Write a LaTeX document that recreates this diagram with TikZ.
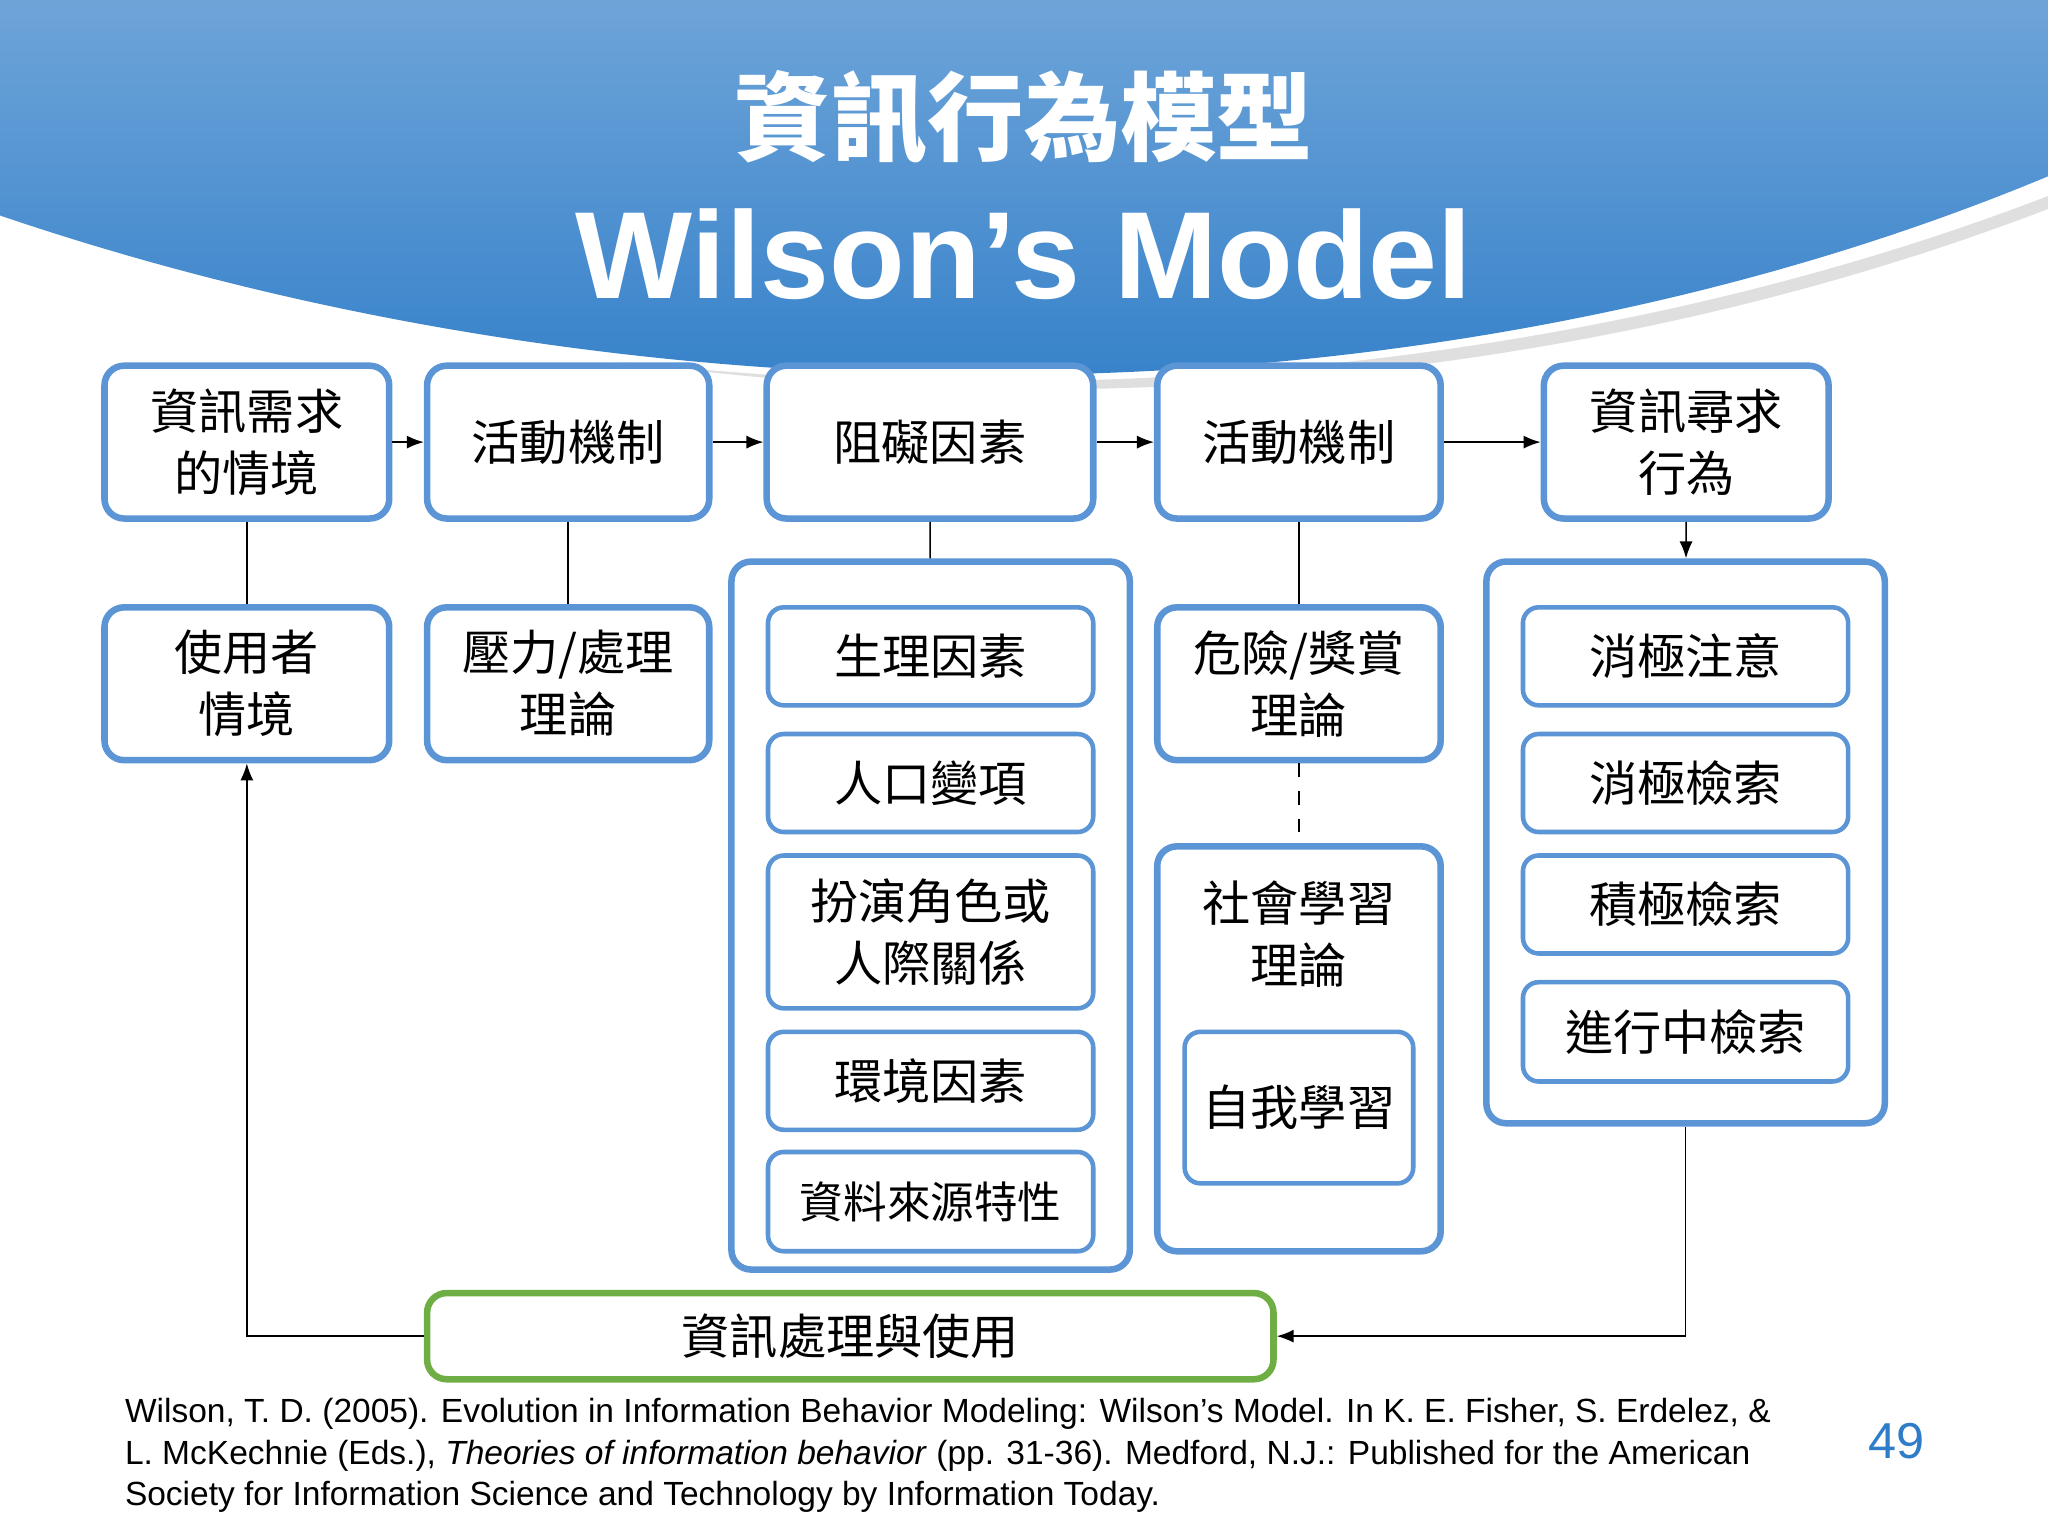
\documentclass[tikz,border=0pt]{standalone}
\usepackage{fontspec}
\setmainfont{Liberation Sans}
\newfontfamily\cjk{Noto Sans CJK TC}
\usetikzlibrary{fit,arrows.meta}
\definecolor{bb}{HTML}{5B95D5}
\definecolor{hb}{HTML}{2F7DC8}
\definecolor{gg}{HTML}{6FAE45}
\begin{document}
\begin{tikzpicture}[
  box/.style={draw=bb,line width=0.05cm,rounded corners=0.15cm,fill=white,inner sep=0pt},
  ibox/.style={box,line width=0.035cm,rounded corners=0.12cm},
  t/.style={font=\cjk\fontsize{10.5pt}{13.5pt}\selectfont,align=center},
  ln/.style={line width=0.012cm,black},
  ar/.style={ln,-{Latex[length=0.13cm,width=0.1cm]}}]
\useasboundingbox (0,0) rectangle (15.68,-11.76);
% header
\fill[gray!25] (0,-1.55) .. controls (5,-3.5) and (11,-3.4) .. (15.68,-1.6) -- (15.68,-1.2) -- (0,-1.2) -- cycle;
\fill[white] (0,-1.75) .. controls (5,-3.4) and (11,-3.3) .. (15.68,-1.5) -- (15.68,-1.2) -- (0,-1.2) -- cycle;
\shade[top color=hb!70!white,bottom color=hb] (0,0) -- (15.68,0) -- (15.68,-1.35) .. controls (11,-3.3) and (5,-3.35) .. (0,-1.65) -- cycle;
\node[text=white,font=\cjk\bfseries\fontsize{21pt}{24pt}\selectfont] (t1) at (7.84,-0.9) {資訊行為模型};
\node[text=white,font=\bfseries\fontsize{27pt}{30pt}\selectfont] (t2) at (7.84,-1.95) {Wilson’s Model};
% top row
\node[box,fit={(0.80,-2.80)(2.98,-3.97)}] (a1) {}; \node[t] at (a1) {資訊需求\\的情境};
\node[box,fit={(3.27,-2.80)(5.43,-3.97)}] (a2) {}; \node[t] at (a2) {活動機制};
\node[box,fit={(5.87,-2.80)(8.37,-3.97)}] (a3) {}; \node[t] at (a3) {阻礙因素};
\node[box,fit={(8.86,-2.80)(11.03,-3.97)}] (a4) {}; \node[t] at (a4) {活動機制};
\node[box,fit={(11.82,-2.80)(14.00,-3.97)}] (a5) {}; \node[t] at (a5) {資訊尋求\\行為};
% second row
\node[box,fit={(0.80,-4.65)(2.98,-5.82)}] (b1) {}; \node[t] at (b1) {使用者\\情境};
\node[box,fit={(3.27,-4.65)(5.43,-5.82)}] (b2) {}; \node[t] at (b2) {壓力/處理\\理論};
\node[box,fit={(5.60,-4.30)(8.65,-9.72)}] (c3) {};
\node[ibox,fit={(5.88,-4.65)(8.37,-5.40)}] (c31) {}; \node[t] at (c31) {生理因素};
\node[ibox,fit={(5.88,-5.62)(8.37,-6.37)}] (c32) {}; \node[t] at (c32) {人口變項};
\node[ibox,fit={(5.88,-6.55)(8.37,-7.72)}] (c33) {}; \node[t] at (c33) {扮演角色或\\人際關係};
\node[ibox,fit={(5.88,-7.90)(8.37,-8.65)}] (c34) {}; \node[t] at (c34) {環境因素};
\node[ibox,fit={(5.88,-8.82)(8.37,-9.58)}] (c35) {}; \node[t,font=\cjk\fontsize{9.5pt}{12pt}\selectfont] at (c35) {資料來源特性};
\node[box,fit={(8.86,-4.65)(11.03,-5.82)}] (b4) {}; \node[t] at (b4) {危險/獎賞\\理論};
\node[box,fit={(8.86,-6.48)(11.03,-9.58)}] (c4) {}; \node[t] at (9.945,-7.15) {社會學習\\理論};
\node[ibox,fit={(9.07,-7.90)(10.82,-9.06)}] (c41) {}; \node[t] at (c41) {自我學習};
\node[box,fit={(11.38,-4.30)(14.43,-8.60)}] (c5) {};
\node[ibox,fit={(11.66,-4.65)(14.15,-5.40)}] (c51) {}; \node[t] at (c51) {消極注意};
\node[ibox,fit={(11.66,-5.62)(14.15,-6.37)}] (c52) {}; \node[t] at (c52) {消極檢索};
\node[ibox,fit={(11.66,-6.55)(14.15,-7.30)}] (c53) {}; \node[t] at (c53) {積極檢索};
\node[ibox,fit={(11.66,-7.52)(14.15,-8.28)}] (c54) {}; \node[t] at (c54) {進行中檢索};
\node[box,draw=gg,fit={(3.27,-9.90)(9.75,-10.56)}] (g) {}; \node[t] at (g) {資訊處理與使用};
% connectors
\draw[ar] (a1) -- (a2); \draw[ar] (a2) -- (a3); \draw[ar] (a3) -- (a4); \draw[ar] (a4) -- (a5);
\draw[ar] (a5) -- (c5);
\draw[ln] (a1) -- (b1); \draw[ln] (a2) -- (b2); \draw[ln] (a3) -- (c3); \draw[ln] (a4) -- (b4);
\draw[ln,dashed] (b4) -- (c4);
\draw[ar] (c5.south) |- (g.east);
\draw[ar] (g.west) -| (b1.south);
% citation
\node[anchor=north west,align=left,font=\fontsize{7.3pt}{9pt}\selectfont,inner sep=0] (cit) at (0.95,-10.70)
 {Wilson, T. D. (2005). Evolution in Information Behavior Modeling: Wilson’s Model. In K. E. Fisher, S. Erdelez, \&\\
 L. McKechnie (Eds.), \textit{Theories of information behavior} (pp. 31-36). Medford, N.J.: Published for the American\\
 Society for Information Science and Technology by Information Today.};
\node[text=hb,font=\fontsize{11pt}{13pt}\selectfont] (pg) at (14.52,-11.03) {49};
\end{tikzpicture}
\end{document}
